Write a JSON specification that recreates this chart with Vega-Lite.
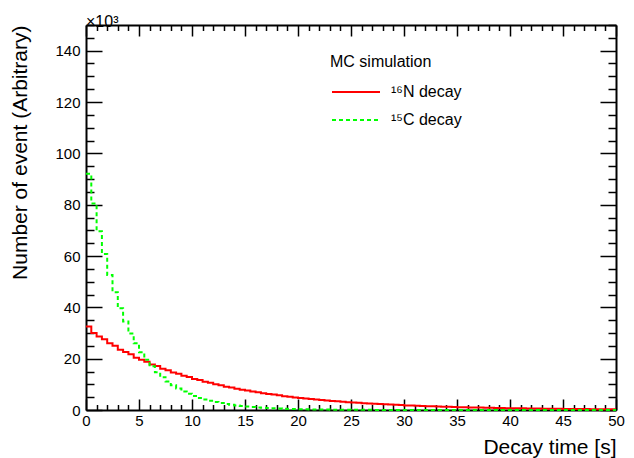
{
  "$schema": "https://vega.github.io/schema/vega-lite/v6.json",
  "width": 530,
  "height": 385,
  "autosize": "none",
  "padding": {"left": 86, "top": 25, "right": 18, "bottom": 48},
  "background": "white",
  "title": {"text": "×10³", "anchor": "start", "frame": "group", "offset": 1, "dy": 13},
  "datasets": {
    "n16": [
      {"t":0,"v":32.5},{"t":0.5,"v":30.0},{"t":1,"v":28.6},{"t":1.5,"v":27.6},{"t":2,"v":26.0},{"t":2.5,"v":25.0},{"t":3,"v":23.5},{"t":3.5,"v":22.6},{"t":4,"v":21.7},{"t":4.5,"v":20.4},
      {"t":5,"v":19.6},{"t":5.5,"v":18.8},{"t":6,"v":17.7},{"t":6.5,"v":17.1},{"t":7,"v":16.1},{"t":7.5,"v":15.5},{"t":8,"v":14.6},{"t":8.5,"v":14.1},{"t":9,"v":13.3},{"t":9.5,"v":12.9},
      {"t":10,"v":12.1},{"t":10.5,"v":11.7},{"t":11,"v":11.0},{"t":11.5,"v":10.6},{"t":12,"v":10.0},{"t":12.5,"v":9.6},{"t":13,"v":9.1},{"t":13.5,"v":8.8},{"t":14,"v":8.3},{"t":14.5,"v":7.9},
      {"t":15,"v":7.6},{"t":15.5,"v":7.2},{"t":16,"v":6.9},{"t":16.5,"v":6.5},{"t":17,"v":6.2},{"t":17.5,"v":6.0},{"t":18,"v":5.7},{"t":18.5,"v":5.4},{"t":19,"v":5.2},{"t":19.5,"v":4.9},
      {"t":20,"v":4.7},{"t":20.5,"v":4.5},{"t":21,"v":4.3},{"t":21.5,"v":4.1},{"t":22,"v":3.9},{"t":22.5,"v":3.7},{"t":23,"v":3.5},{"t":23.5,"v":3.4},{"t":24,"v":3.2},{"t":24.5,"v":3.05},
      {"t":25,"v":2.9},{"t":25.5,"v":2.8},{"t":26,"v":2.65},{"t":26.5,"v":2.5},{"t":27,"v":2.4},{"t":27.5,"v":2.3},{"t":28,"v":2.2},{"t":28.5,"v":2.1},{"t":29,"v":2.0},{"t":29.5,"v":1.9},
      {"t":30,"v":1.8},{"t":30.5,"v":1.72},{"t":31,"v":1.64},{"t":31.5,"v":1.57},{"t":32,"v":1.5},{"t":32.5,"v":1.43},{"t":33,"v":1.36},{"t":33.5,"v":1.3},{"t":34,"v":1.24},{"t":34.5,"v":1.18},
      {"t":35,"v":1.12},{"t":35.5,"v":1.07},{"t":36,"v":1.02},{"t":36.5,"v":0.98},{"t":37,"v":0.93},{"t":37.5,"v":0.89},{"t":38,"v":0.85},{"t":38.5,"v":0.81},{"t":39,"v":0.77},{"t":39.5,"v":0.73},
      {"t":40,"v":0.7},{"t":40.5,"v":0.67},{"t":41,"v":0.64},{"t":41.5,"v":0.61},{"t":42,"v":0.58},{"t":42.5,"v":0.55},{"t":43,"v":0.53},{"t":43.5,"v":0.5},{"t":44,"v":0.48},{"t":44.5,"v":0.46},
      {"t":45,"v":0.43},{"t":45.5,"v":0.41},{"t":46,"v":0.39},{"t":46.5,"v":0.38},{"t":47,"v":0.36},{"t":47.5,"v":0.34},{"t":48,"v":0.33},{"t":48.5,"v":0.31},{"t":49,"v":0.3},{"t":49.5,"v":0.28},
      {"t":50,"v":0.28}
    ],
    "c15": [
      {"t":0,"v":92},{"t":0.5,"v":80.5},{"t":1,"v":69.6},{"t":1.5,"v":60.8},{"t":2,"v":52.6},{"t":2.5,"v":45.9},{"t":3,"v":39.6},{"t":3.5,"v":34.5},{"t":4,"v":29.8},{"t":4.5,"v":26.0},
      {"t":5,"v":22.5},{"t":5.5,"v":19.6},{"t":6,"v":17.0},{"t":6.5,"v":14.7},{"t":7,"v":12.8},{"t":7.5,"v":11.1},{"t":8,"v":9.6},{"t":8.5,"v":8.4},{"t":9,"v":7.2},{"t":9.5,"v":6.3},
      {"t":10,"v":5.5},{"t":10.5,"v":4.7},{"t":11,"v":4.1},{"t":11.5,"v":3.6},{"t":12,"v":3.1},{"t":12.5,"v":2.7},{"t":13,"v":2.3},{"t":13.5,"v":2.0},{"t":14,"v":1.75},{"t":14.5,"v":1.52},
      {"t":15,"v":1.32},{"t":15.5,"v":1.15},{"t":16,"v":1.0},{"t":16.5,"v":0.86},{"t":17,"v":0.75},{"t":17.5,"v":0.65},{"t":18,"v":0.56},{"t":18.5,"v":0.49},{"t":19,"v":0.42},{"t":19.5,"v":0.37},
      {"t":20,"v":0.32},{"t":20.5,"v":0.28},{"t":21,"v":0.24},{"t":21.5,"v":0.21},{"t":22,"v":0.18},{"t":22.5,"v":0.16},{"t":23,"v":0.14},{"t":23.5,"v":0.12},{"t":24,"v":0.1},{"t":24.5,"v":0.09},
      {"t":25,"v":0.08},{"t":25.5,"v":0.07},{"t":26,"v":0.06},{"t":26.5,"v":0.05},{"t":27,"v":0.045},{"t":27.5,"v":0.04},{"t":28,"v":0.035},{"t":28.5,"v":0.03},{"t":29,"v":0.026},{"t":29.5,"v":0.023},
      {"t":30,"v":0.02},{"t":30.5,"v":0.02},{"t":31,"v":0.02},{"t":31.5,"v":0.02},{"t":32,"v":0.01},{"t":32.5,"v":0.01},{"t":33,"v":0.01},{"t":33.5,"v":0.01},{"t":34,"v":0.01},{"t":34.5,"v":0.01},
      {"t":35,"v":0.01},{"t":35.5,"v":0.01},{"t":36,"v":0.01},{"t":36.5,"v":0.01},{"t":37,"v":0.01},{"t":37.5,"v":0.01},{"t":38,"v":0.01},{"t":38.5,"v":0.01},{"t":39,"v":0.01},{"t":39.5,"v":0.01},
      {"t":40,"v":0.01},{"t":40.5,"v":0.01},{"t":41,"v":0.01},{"t":41.5,"v":0.01},{"t":42,"v":0.01},{"t":42.5,"v":0.01},{"t":43,"v":0.01},{"t":43.5,"v":0.01},{"t":44,"v":0.01},{"t":44.5,"v":0.01},
      {"t":45,"v":0.01},{"t":45.5,"v":0.01},{"t":46,"v":0.01},{"t":46.5,"v":0.01},{"t":47,"v":0.01},{"t":47.5,"v":0.01},{"t":48,"v":0.01},{"t":48.5,"v":0.01},{"t":49,"v":0.01},{"t":49.5,"v":0.01},
      {"t":50,"v":0.01}
    ]
  },
  "layer": [
    {
      "data": {"name": "n16"},
      "mark": {"type": "line", "interpolate": "step-after", "strokeWidth": 2},
      "encoding": {
        "x": {"field": "t", "type": "quantitative", "scale": {"domain": [0, 50], "nice": false, "zero": false},
          "axis": {"orient": "bottom", "title": "Decay time [s]",
            "values": [0,1,2,3,4,5,6,7,8,9,10,11,12,13,14,15,16,17,18,19,20,21,22,23,24,25,26,27,28,29,30,31,32,33,34,35,36,37,38,39,40,41,42,43,44,45,46,47,48,49,50],
            "tickSize": {"condition": {"test": "datum.value % 5 === 0", "value": -11}, "value": -5.5},
            "labelExpr": "datum.value % 5 === 0 ? datum.label : ''",
            "labelPadding": 14, "titleX": 530, "titleY": 43, "titleAlign": "right", "titleAnchor": "end", "titleBaseline": "alphabetic"}},
        "y": {"field": "v", "type": "quantitative", "scale": {"domain": [0, 150], "nice": false},
          "axis": {"orient": "left", "title": "Number of event (Arbitrary)",
            "values": [0,5,10,15,20,25,30,35,40,45,50,55,60,65,70,75,80,85,90,95,100,105,110,115,120,125,130,135,140,145,150],
            "tickSize": {"condition": {"test": "datum.value % 20 === 0", "value": -16}, "value": -8},
            "labelExpr": "datum.value % 20 === 0 ? datum.label : ''",
            "labelPadding": 22, "titleX": -60, "titleY": 0, "titleAlign": "right", "titleAnchor": "end", "titleBaseline": "alphabetic", "titleAngle": -90}},
        "color": {"datum": "¹⁶N decay", "type": "nominal", "title": "MC simulation",
          "scale": {"domain": ["¹⁶N decay", "¹⁵C decay"], "range": ["#ff0000", "#00ff00"]}},
        "strokeDash": {"datum": "¹⁶N decay", "type": "nominal", "title": "MC simulation",
          "scale": {"domain": ["¹⁶N decay", "¹⁵C decay"], "range": [[1, 0], [4, 3]]}}
      }
    },
    {
      "data": {"name": "c15"},
      "mark": {"type": "line", "interpolate": "step-after", "strokeWidth": 2},
      "encoding": {
        "x": {"field": "t", "type": "quantitative",
          "axis": {"orient": "top", "title": null, "labels": false,
            "values": [0,1,2,3,4,5,6,7,8,9,10,11,12,13,14,15,16,17,18,19,20,21,22,23,24,25,26,27,28,29,30,31,32,33,34,35,36,37,38,39,40,41,42,43,44,45,46,47,48,49,50],
            "tickSize": {"condition": {"test": "datum.value % 5 === 0", "value": -11}, "value": -5.5}}},
        "y": {"field": "v", "type": "quantitative",
          "axis": {"orient": "right", "title": null, "labels": false,
            "values": [0,5,10,15,20,25,30,35,40,45,50,55,60,65,70,75,80,85,90,95,100,105,110,115,120,125,130,135,140,145,150],
            "tickSize": {"condition": {"test": "datum.value % 20 === 0", "value": -16}, "value": -8}}},
        "color": {"datum": "¹⁵C decay", "type": "nominal", "title": "MC simulation"},
        "strokeDash": {"datum": "¹⁵C decay", "type": "nominal", "title": "MC simulation"}
      }
    }
  ],
  "resolve": {"axis": {"x": "independent", "y": "independent"}},
  "config": {
    "view": {"stroke": null},
    "title": {"fontSize": 16, "fontWeight": "normal", "font": "Liberation Sans", "color": "black", "baseline": "alphabetic"},
    "axis": {"grid": false, "domainColor": "black", "domainWidth": 2, "tickColor": "black", "tickWidth": 1.5,
      "labelFont": "Liberation Sans", "labelFontSize": 15, "labelColor": "black", "labelOverlap": false, "labelFlush": false, "labelBound": false,
      "titleFont": "Liberation Sans", "titleFontSize": 21, "titleFontWeight": "normal", "titleColor": "black"},
    "legend": {"orient": "none", "legendX": 244, "legendY": 29, "padding": 0,
      "titleFont": "Liberation Sans", "titleFontSize": 16, "titleFontWeight": "normal", "titleColor": "black", "titlePadding": 9,
      "labelFont": "Liberation Sans", "labelFontSize": 16, "labelColor": "black",
      "symbolType": "M-2,0H2", "symbolSize": 576, "symbolStrokeWidth": 2, "symbolOffset": 13, "labelOffset": 22, "rowPadding": 7}
  }
}
